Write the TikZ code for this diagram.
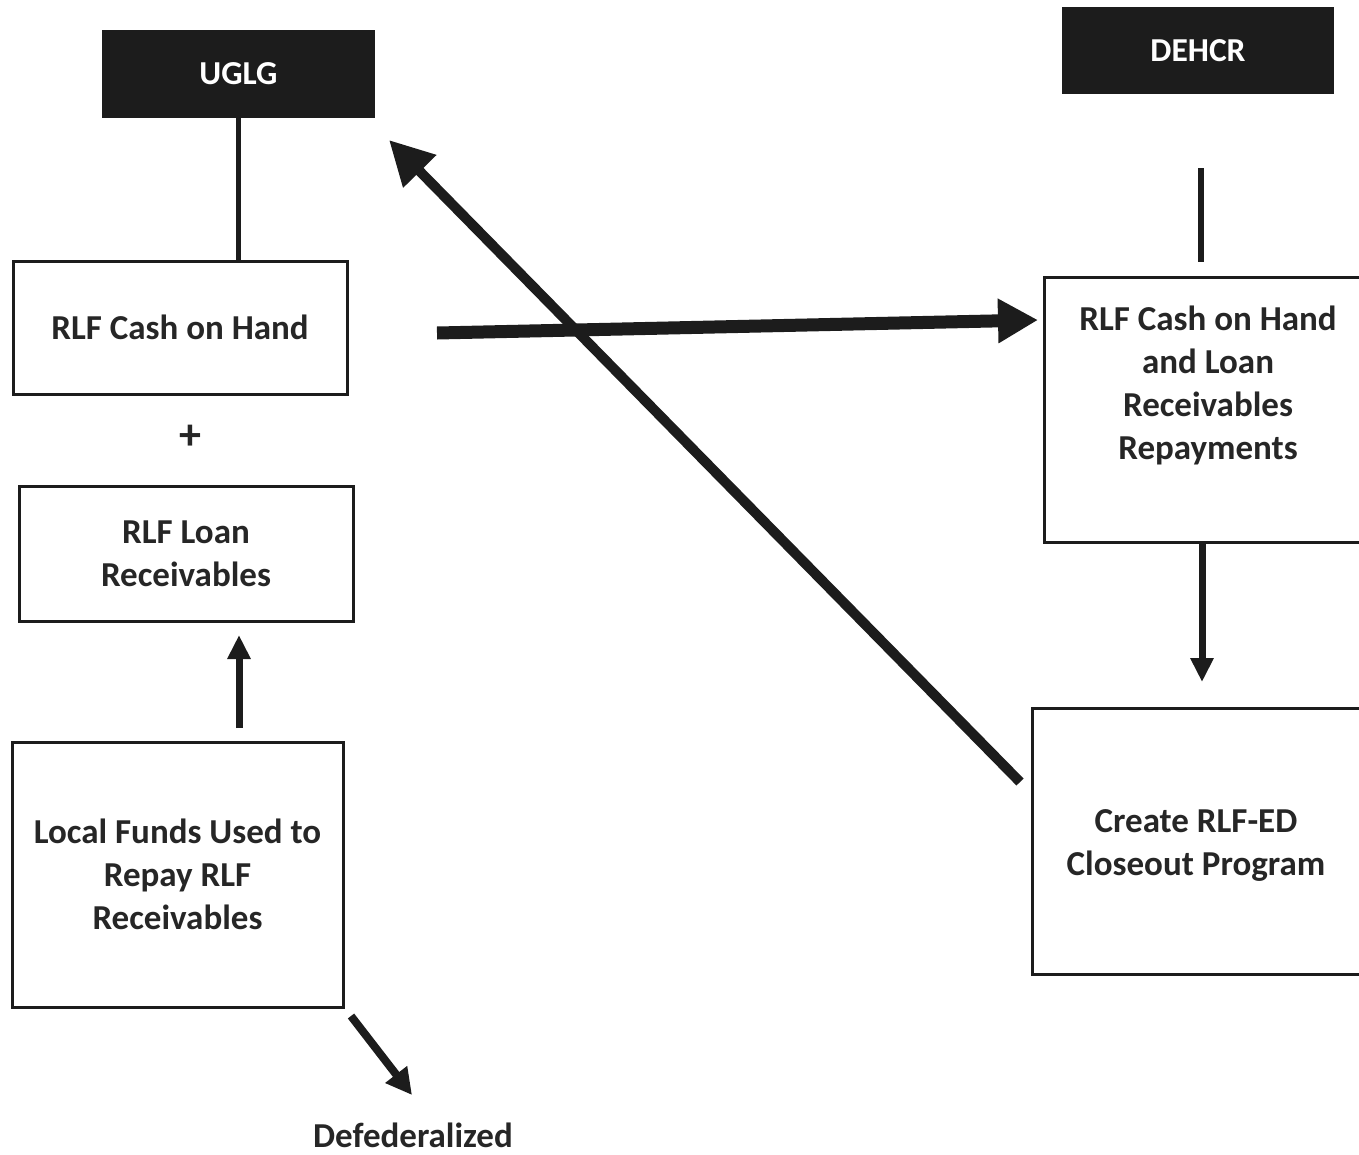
\documentclass[tikz,border=0pt]{standalone}
\usepackage{fontspec}
\setmainfont{Carlito}
\usetikzlibrary{arrows.meta}
\definecolor{ink}{HTML}{1C1C1C}
\definecolor{txtc}{HTML}{262626}
\begin{document}
\begin{tikzpicture}[x=1pt,y=-1pt,
  hdr/.style={fill=ink, draw=none, text=white, font=\fontsize{33.5}{40}\selectfont\bfseries, inner sep=0},
  box/.style={draw=ink, line width=3pt, inner sep=0, text=txtc, font=\fontsize{35}{43}\selectfont\bfseries, align=center},
  txt/.style={font=\fontsize{35}{43}\selectfont\bfseries, align=center, inner sep=0, text=txtc},
  conn/.style={draw=ink, line width=6pt},
  arr/.style={draw=ink, line width=7pt, -{Triangle[length=24pt,width=22pt]}},
  bigarr/.style={draw=ink, line width=13pt, -{Triangle[length=40pt,width=42pt]}},
  diagarr/.style={draw=ink, line width=10pt, -{Triangle[length=44pt,width=44pt]}}]
\useasboundingbox (0,0) rectangle (1359,1154);
\clip (0,0) rectangle (1359,1154);
% header boxes
\node[hdr, minimum width=273, minimum height=88] (uglg) at (238.5,74) {UGLG};
\node[hdr, minimum width=272, minimum height=87] (dehcr) at (1198,50.5) {DEHCR};
% left column
\node[box, minimum width=334, minimum height=133] (cash) at (180,327.5) {RLF Cash on Hand};
\node[txt, font=\fontsize{44}{44}\selectfont\bfseries] (plus) at (190,437) {+};
\node[box, minimum width=334, minimum height=135] (loan) at (186,553.5) {RLF Loan\\Receivables};
\node[box, minimum width=331, minimum height=265] (local) at (177.5,874.5) {Local Funds Used to\\Repay RLF\\Receivables};
\node[font=\fontsize{35}{43}\selectfont\bfseries, inner sep=0, text=txtc] (defed) at (413,1135) {Defederalized};
% right column
\node[box, minimum width=330, minimum height=265] (repay) at (1209,409.5) {};
\node[txt] (repaytxt) at (1208,385) {RLF Cash on Hand\\and Loan\\Receivables\\Repayments};
\node[box, minimum width=340, minimum height=266] (create) at (1202,841) {};
\node[txt] (createtxt) at (1196,845) {Create RLF-ED\\Closeout Program};
% free ends
\coordinate (dl1) at (1201,168);
\coordinate (dl2) at (1201,262);
\coordinate (upS) at (239,728);
\coordinate (upE) at (239,635);
\coordinate (dnS) at (1202,543);
\coordinate (dnE) at (1202,682);
\coordinate (hS) at (437,333);
\coordinate (hE) at (1038,320);
\coordinate (dS) at (1020,782);
\coordinate (dE) at (389,140);
\coordinate (fS) at (351,1016);
\coordinate (fE) at (412,1095);
% connectors
\draw[conn, line width=5pt] (uglg.south) -- (uglg.south |- cash.north);
\draw[conn] (dl1) -- (dl2);
\draw[arr] (upS) -- (upE);
\draw[arr] (dnS) -- (dnE);
\draw[bigarr] (hS) -- (hE);
\draw[diagarr] (dS) -- (dE);
\draw[arr, line width=8pt, -{Triangle[length=26pt,width=26pt]}] (fS) -- (fE);
\end{tikzpicture}
\end{document}
